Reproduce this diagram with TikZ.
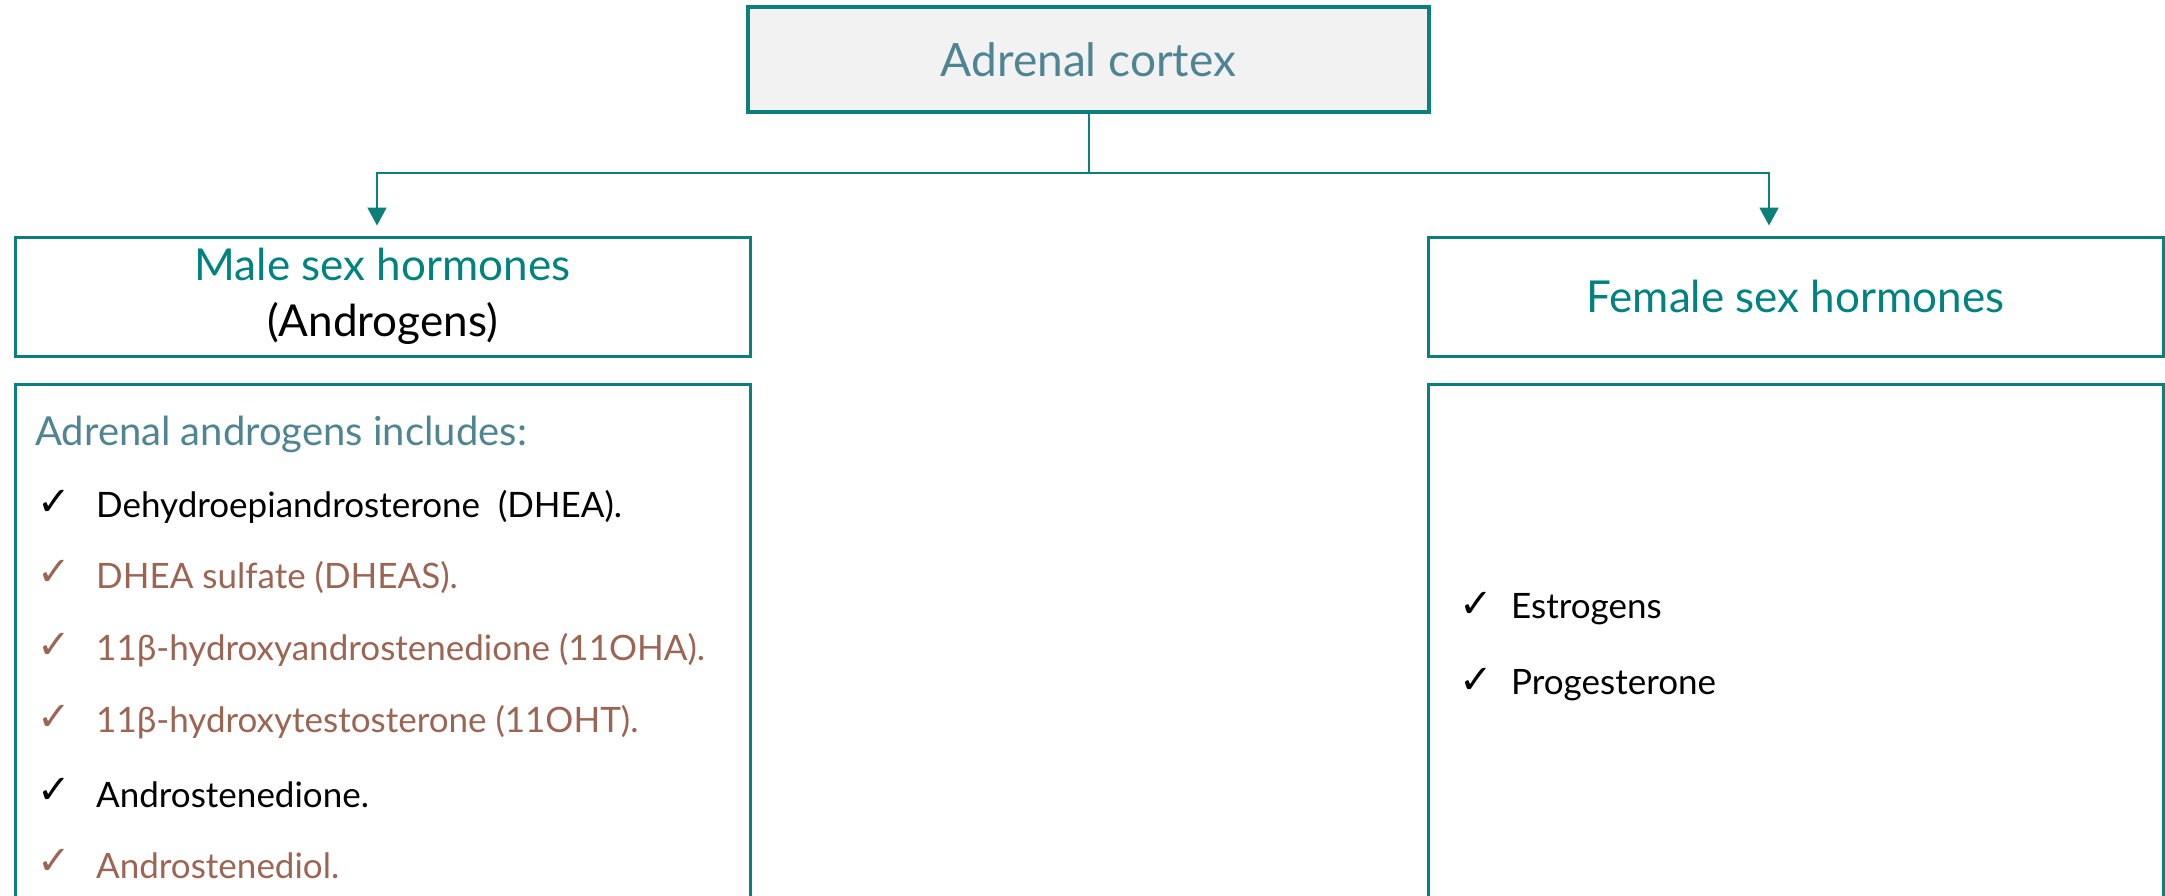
\documentclass[tikz,border=0pt]{standalone}
\usepackage{fontspec}
\setmainfont{Lato}
\newfontfamily\symfont{DejaVu Sans}
\usetikzlibrary{arrows.meta}
\definecolor{tealA}{HTML}{0A7F7C}
\definecolor{tealT}{HTML}{00827F}
\definecolor{slate}{HTML}{4F8592}
\definecolor{brownish}{HTML}{9C6452}
\definecolor{boxgray}{HTML}{F2F2F2}
\tikzset{
  topbox/.style={draw=tealA, line width=3.5pt, fill=boxgray, minimum width=681pt, minimum height=105pt, inner sep=0pt, text=slate, font=\fontsize{46}{55}\selectfont},
  headbox/.style={draw=tealA, line width=3pt, minimum width=735pt, minimum height=119pt, inner sep=0pt, align=center, font=\fontsize{44}{56}\selectfont},
  bodybox/.style={draw=tealA, line width=3pt, minimum width=735pt, minimum height=566pt, inner sep=0pt},
  conn/.style={draw=tealA, line width=2pt},
  arr/.style={conn, -{Triangle[width=19pt,length=18pt]}, shorten >=10pt},
  chk/.style={anchor=west, inner sep=0pt, font=\symfont\fontsize{40}{44}\selectfont},
  item/.style={anchor=west, inner sep=0pt, font=\fontsize{35}{40}\selectfont},
  blk/.style={text=black},
  brn/.style={text=brownish},
}
\begin{document}
\begin{tikzpicture}[x=1pt,y=-1pt]
\useasboundingbox (0,0) rectangle (2165,895);
\node[topbox] (cortex) at (1088.5,59.5) {Adrenal cortex};
\node[headbox] (male) at (382.5,296.5) {\textcolor{tealT}{Male sex hormones}\\\textcolor{black}{(Androgens)}};
\node[headbox, text=tealT] (female) at (1795.5,296.5) {Female sex hormones};
\node[bodybox] (malebody) at (382.5,667) {};
\node[bodybox] (femalebody) at (1795.5,667) {};
\coordinate (split) at (1088.5,173);
\draw[conn] (cortex.south) -- (split);
\draw[arr] (split) -| ([xshift=-5.5pt]male.north);
\draw[arr] (split) -| ([xshift=-26.5pt]female.north);
% male list
\node[anchor=west, inner sep=0pt, text=slate, font=\fontsize{40}{46}\selectfont] (inc) at (35,434) {Adrenal androgens includes:};
\node[chk, blk] (c1) at (37,503) {✓};
\node[item, blk] (t1) at (96,507) {Dehydroepiandrosterone\ \ (DHEA).};
\node[chk, brn] (c2) at (37,573) {✓};
\node[item, brn] (t2) at (96,577) {DHEA sulfate (DHEAS).};
\node[chk, brn] (c3) at (37,646) {✓};
\node[item, brn] (t3) at (96,650) {11β-hydroxyandrostenedione (11OHA).};
\node[chk, brn] (c4) at (37,718) {✓};
\node[item, brn] (t4) at (96,722) {11β-hydroxytestosterone (11OHT).};
\node[chk, blk] (c5) at (37,791) {✓};
\node[item, blk] (t5) at (96,795) {Androstenedione.};
\node[chk, brn] (c6) at (37,862) {✓};
\node[item, brn] (t6) at (96,866) {Androstenediol.};
% female list
\node[chk, blk] (f1c) at (1459,605) {✓};
\node[item, blk] (f1) at (1511,609) {Estrogens};
\node[chk, blk] (f2c) at (1459,681) {✓};
\node[item, blk] (f2) at (1511,685) {Progesterone};
\end{tikzpicture}
\end{document}
